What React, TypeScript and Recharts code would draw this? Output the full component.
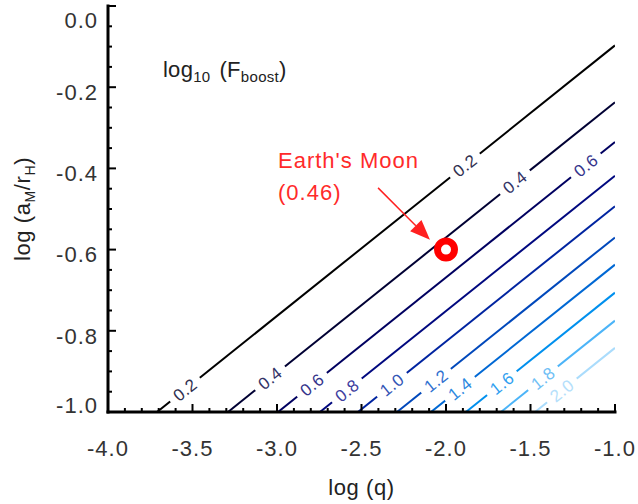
import React from 'react';
import {
    LineChart,
    Line,
    XAxis,
    YAxis,
    ReferenceDot,
    ReferenceLine,
} from 'recharts';

// contour levels of log10(F_boost), each a straight line in the (log q, log aM/rH) plane
const levels = ['0.2', '0.4', '0.6', '0.8', '1.0', '1.2', '1.4', '1.6', '1.8', '2.0'];
// where each contour meets the bottom edge (y = -1.0)
const bottomX = [-3.71, -3.29, -2.994, -2.746, -2.521, -2.29, -2.089, -1.882, -1.675, -1.473];
// where each contour meets the right edge (x = -1.0)
const rightY = [-0.097, -0.237, -0.335, -0.418, -0.493, -0.57, -0.637, -0.706, -0.775, -0.842];
const lineColors = ['#000000', '#000033', '#000060', '#00087f', '#0024a0', '#0048bb', '#0068d4', '#0090ee', '#4cb4f8', '#aadcfc'];
const labelColors = ['#303050', '#333366', '#35358c', '#4040a0', '#3355b5', '#3070d0', '#2b88e0', '#30a0f0', '#70c0f5', '#b5e0fb'];

// inline contour labels: level index, position on the line
const labelLevel = [0, 0, 1, 1, 2, 2, 3, 4, 5, 6, 7, 8, 9];
const labelX = [-3.544, -1.888, -3.041, -1.592, -2.793, -1.172, -2.586, -2.32, -2.059, -1.917, -1.669, -1.426, -1.314];
const labelY = [-0.945, -0.393, -0.917, -0.434, -0.933, -0.393, -0.947, -0.933, -0.923, -0.943, -0.929, -0.917, -0.947];

const xMajor = [-4.0, -3.5, -3.0, -2.5, -2.0, -1.5, -1.0];
const yMajor = [-1.0, -0.8, -0.6, -0.4, -0.2, 0.0];

// Earth's Moon
const moonX = -2.0;
const moonY = -0.6;
const moonValue = '0.46';
const arrowFrom = { x: -2.402, y: -0.448 };
const arrowTo = { x: -2.095, y: -0.576 };

const xTicks: number[] = [];
for (let i = 0; i <= 30; i++) xTicks.push(Math.round((-4 + i * 0.1) * 100) / 100);
const yTicks: number[] = [];
for (let i = 0; i <= 20; i++) yTicks.push(Math.round((-1 + i * 0.05) * 100) / 100);

const isMajorX = (v: number) => xMajor.some((m) => Math.abs(m - v) < 1e-6);
const isMajorY = (v: number) => yMajor.some((m) => Math.abs(m - v) < 1e-6);

const FONT = '"Liberation Sans", Arial, Helvetica, sans-serif';
const ANGLE = -38.7;

const BottomTick = ({ x, y, payload }: any) => {
    const major = isMajorX(payload.value);
    return (
        <g>
            <line x1={x} y1={y} x2={x} y2={y - (major ? 8 : 4)} stroke="#000" strokeWidth={2} />
            {major && (
                <text x={x} y={y + 36} dy="0.35em" textAnchor="middle" fill="#333" fontSize={22} letterSpacing={1} fontFamily={FONT}>
                    {payload.value.toFixed(1)}
                </text>
            )}
        </g>
    );
};

const TopTick = ({ x, y, payload }: any) => {
    const major = isMajorX(payload.value);
    return <line x1={x} y1={y} x2={x} y2={y + (major ? 8 : 4)} stroke="#000" strokeWidth={2} />;
};

const LeftTick = ({ x, y, payload }: any) => {
    const v = payload.value;
    const major = isMajorY(v);
    const shift = v === 0 ? 14 : v === -1 ? -7 : 5;
    return (
        <g>
            <line x1={x} y1={y} x2={x + (major ? 8 : 4)} y2={y} stroke="#000" strokeWidth={2} />
            {major && (
                <text x={x - 10} y={y + shift} dy="0.35em" textAnchor="end" fill="#333" fontSize={22} letterSpacing={1} fontFamily={FONT}>
                    {v.toFixed(1)}
                </text>
            )}
        </g>
    );
};

const RightTick = ({ x, y, payload }: any) => {
    const major = isMajorY(payload.value);
    return <line x1={x} y1={y} x2={x - (major ? 8 : 4)} y2={y} stroke="#000" strokeWidth={2} />;
};

const ArrowShape = ({ x1, y1, x2, y2 }: any) => {
    const ang = Math.atan2(y2 - y1, x2 - x1);
    const len = 20;
    const w = 8;
    const bx = x2 - len * Math.cos(ang);
    const by = y2 - len * Math.sin(ang);
    const px = -Math.sin(ang) * w;
    const py = Math.cos(ang) * w;
    return (
        <g>
            <line x1={x1} y1={y1} x2={bx} y2={by} stroke="#ff2020" strokeWidth={1.5} />
            <polygon points={`${x2},${y2} ${bx + px},${by + py} ${bx - px},${by - py}`} fill="#ff2020" />
        </g>
    );
};

const axisLine = { stroke: '#000', strokeWidth: 3, strokeLinecap: 'square' as const };

export default function App() {
    return (
        <div style={{ position: 'absolute', left: 0, top: 0, width: 638, height: 504, background: '#fff' }}>
            <LineChart width={638} height={504} margin={{ top: 6, right: 23, bottom: 32, left: 8 }}>
                <XAxis
                    xAxisId="b"
                    type="number"
                    dataKey="x"
                    domain={[-4, -1]}
                    ticks={xTicks}
                    interval={0}
                    allowDataOverflow
                    height={60}
                    tickSize={0}
                    tickMargin={0}
                    axisLine={axisLine}
                    tickLine={false}
                    tick={<BottomTick />}
                    label={({ viewBox }: any) => (
                        <text x={viewBox.x + viewBox.width / 2} y={viewBox.y + 75} dy="0.35em" textAnchor="middle" fill="#222" fontSize={22} letterSpacing={0.6} fontFamily={FONT}>
                            log (q)
                        </text>
                    )}
                />
                <XAxis
                    xAxisId="t"
                    orientation="top"
                    type="number"
                    dataKey="x"
                    domain={[-4, -1]}
                    ticks={xTicks}
                    interval={0}
                    allowDataOverflow
                    height={0}
                    tickSize={0}
                    tickMargin={0}
                    axisLine={axisLine}
                    tickLine={false}
                    tick={<TopTick />}
                />
                <YAxis
                    yAxisId="l"
                    type="number"
                    domain={[-1, 0]}
                    ticks={yTicks}
                    interval={0}
                    allowDataOverflow
                    width={100}
                    tickSize={0}
                    tickMargin={0}
                    axisLine={axisLine}
                    tickLine={false}
                    tick={<LeftTick />}
                    label={({ viewBox }: any) => {
                        const cx = viewBox.x + 14;
                        const cy = 209;
                        return (
                            <text x={cx} y={cy} dy="0.35em" textAnchor="middle" transform={`rotate(-90, ${cx}, ${cy})`} fill="#222" fontSize={22} letterSpacing={0.6} fontFamily={FONT}>
                                log (a<tspan fontSize={14} dy={5}>M</tspan>
                                <tspan dy={-5}>/r</tspan>
                                <tspan fontSize={14} dy={5}>H</tspan>
                                <tspan dy={-5}>)</tspan>
                            </text>
                        );
                    }}
                />
                <YAxis
                    yAxisId="r"
                    orientation="right"
                    type="number"
                    domain={[-1, 0]}
                    ticks={yTicks}
                    interval={0}
                    allowDataOverflow
                    width={0}
                    tickSize={0}
                    tickMargin={0}
                    axisLine={axisLine}
                    tickLine={false}
                    tick={<RightTick />}
                />

                {levels.map((lvl, i) => (
                    <Line
                        key={lvl}
                        xAxisId="b"
                        yAxisId="l"
                        type="linear"
                        data={[
                            { x: bottomX[i], y: -1 },
                            { x: -1, y: rightY[i] },
                        ]}
                        dataKey="y"
                        stroke={lineColors[i]}
                        strokeWidth={2}
                        dot={false}
                        activeDot={false}
                        isAnimationActive={false}
                    />
                ))}

                {labelLevel.map((li, k) => (
                    <ReferenceDot
                        key={k}
                        xAxisId="b"
                        yAxisId="l"
                        x={labelX[k]}
                        y={labelY[k]}
                        shape={(p: any) => (
                            <g transform={`translate(${p.cx},${p.cy}) rotate(${ANGLE})`}>
                                <rect x={-19} y={-5} width={38} height={10} fill="#fff" />
                                <text x={0} y={0} dy="0.35em" textAnchor="middle" fill={labelColors[li]} fontSize={17} letterSpacing={0.5} fontFamily={FONT}>
                                    {levels[li]}
                                </text>
                            </g>
                        )}
                    />
                ))}

                <ReferenceDot
                    xAxisId="b"
                    yAxisId="l"
                    x={-3.675}
                    y={-0.175}
                    shape={(p: any) => (
                        <text x={p.cx} y={p.cy} fill="#222" fontSize={22} letterSpacing={0.3} fontFamily={FONT}>
                            log<tspan fontSize={15} dy={5}>10</tspan>
                            <tspan dy={-5} dx={9}>(F</tspan>
                            <tspan fontSize={15} dy={5}>boost</tspan>
                            <tspan dy={-5}>)</tspan>
                        </text>
                    )}
                />

                <ReferenceDot
                    xAxisId="b"
                    yAxisId="l"
                    x={-2.994}
                    y={-0.399}
                    shape={(p: any) => (
                        <text x={p.cx} y={p.cy} fill="#ff2a2a" fontSize={22} letterSpacing={1} fontFamily={FONT}>
                            <tspan x={p.cx}>Earth's Moon</tspan>
                            <tspan x={p.cx} dy={32}>({moonValue})</tspan>
                        </text>
                    )}
                />

                <ReferenceLine
                    xAxisId="b"
                    yAxisId="l"
                    segment={[arrowFrom, arrowTo]}
                    shape={<ArrowShape />}
                />

                <ReferenceDot
                    xAxisId="b"
                    yAxisId="l"
                    x={moonX}
                    y={moonY}
                    shape={(p: any) => (
                        <circle cx={p.cx} cy={p.cy} r={8.5} fill="#fff" stroke="#ff0000" strokeWidth={7} />
                    )}
                />
            </LineChart>
        </div>
    );
}
